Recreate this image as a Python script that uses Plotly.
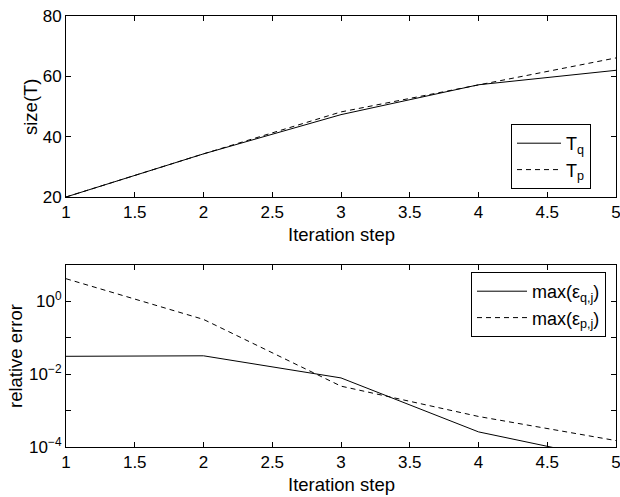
import plotly.graph_objects as go

steps = [1, 2, 3, 4, 5]
size_Tq = [20, 34.3, 47.3, 57.2, 62.0]
size_Tp = [20, 34.3, 48.2, 57.2, 66.1]
err_q = [0.031, 0.032, 0.0079, 2.6e-4, 4.2e-5]
err_p = [4.2, 0.32, 0.0047, 6.9e-4, 1.5e-4]

x_ticks = [1, 1.5, 2, 2.5, 3, 3.5, 4, 4.5, 5]
x_tick_text = ["1", "1.5", "2", "2.5", "3", "3.5", "4", "4.5", "5"]
y1_ticks = [20, 40, 60, 80]
y2_ticks = [1e-4, 1e-2, 1e0]
y2_text = ["10<sup>\u22124</sup>", "10<sup>\u22122</sup>", "10<sup>0</sup>"]
y2_minor = [1e-3, 1e-1, 1e1]

FONT = "Liberation Sans, Arial, sans-serif"
W, H = 620, 497
L, R, T, B = 66, 4, 16, 50
PW, PH = W - L - R, H - T - B


def px(xp):
    return (xp - L) / PW


def py(yp):
    return (H - B - yp) / PH


fig = go.Figure()
fig.add_trace(go.Scatter(x=steps, y=size_Tq, mode="lines", name="T<sub>q</sub>",
                         line=dict(color="black", width=1), xaxis="x", yaxis="y", legend="legend"))
fig.add_trace(go.Scatter(x=steps, y=size_Tp, mode="lines", name="T<sub>p</sub>",
                         line=dict(color="black", width=1, dash="5px,4px"), xaxis="x", yaxis="y", legend="legend"))
fig.add_trace(go.Scatter(x=steps, y=err_q, mode="lines", name="max(\u03b5<sub>q,j</sub>)",
                         line=dict(color="black", width=1), xaxis="x2", yaxis="y2", legend="legend2"))
fig.add_trace(go.Scatter(x=steps, y=err_p, mode="lines", name="max(\u03b5<sub>p,j</sub>)",
                         line=dict(color="black", width=1, dash="5px,4px"), xaxis="x2", yaxis="y2", legend="legend2"))

axis_common = dict(showline=True, linecolor="black", linewidth=1, mirror="allticks",
                   ticks="inside", ticklen=5, tickcolor="black", showgrid=False, zeroline=False,
                   automargin=False, ticklabeloverflow="allow",
                   tickfont=dict(size=17, color="black", family=FONT))

fig.update_layout(
    width=W, height=H,
    margin=dict(l=L, r=R, t=T, b=B),
    paper_bgcolor="white", plot_bgcolor="white",
    font=dict(family=FONT, color="black", size=17),
    xaxis=dict(domain=[0, 1], anchor="y", range=[1, 5], tickvals=x_ticks, ticktext=x_tick_text, **axis_common),
    yaxis=dict(domain=[py(197), 1], anchor="x", range=[20, 80], tickvals=y1_ticks, **axis_common),
    xaxis2=dict(domain=[0, 1], anchor="y2", range=[1, 5], tickvals=x_ticks, ticktext=x_tick_text, **axis_common),
    yaxis2=dict(domain=[0, py(265)], anchor="x2", type="log", range=[-4, 1],
                tickvals=y2_ticks, ticktext=y2_text,
                minor=dict(tickvals=y2_minor, ticks="inside", ticklen=5, tickcolor="black", showgrid=False),
                **axis_common),
    legend=dict(x=px(511), y=py(124), xanchor="left", yanchor="top", bordercolor="black", borderwidth=1,
                bgcolor="white", itemwidth=44, font=dict(size=18, family=FONT)),
    legend2=dict(x=px(471), y=py(272), xanchor="left", yanchor="top", bordercolor="black", borderwidth=1,
                 bgcolor="white", itemwidth=50, font=dict(size=18, family=FONT)),
    showlegend=True,
)

titles = [
    ("Iteration step", px(341), py(234), 0),
    ("Iteration step", px(341), py(484), 0),
    ("size(T)", px(31), py(107), -90),
    ("relative error", px(15), py(356), -90),
]
for text, x, y, ang in titles:
    fig.add_annotation(text=text, x=x, y=y, xref="paper", yref="paper", xanchor="center", yanchor="middle",
                       showarrow=False, textangle=ang, font=dict(size=18.5, family=FONT, color="black"))

fig.write_html("out.html")
